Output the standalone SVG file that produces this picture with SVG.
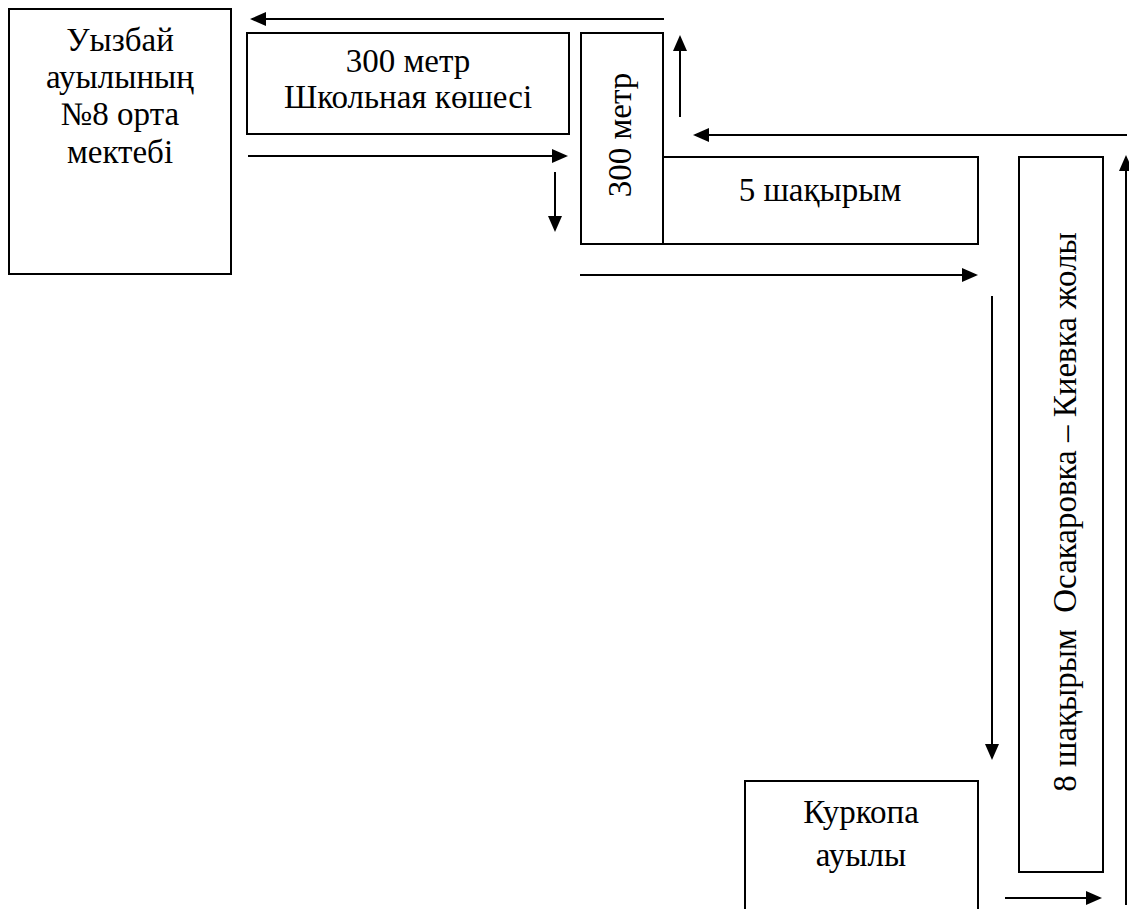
<svg xmlns="http://www.w3.org/2000/svg" width="1129" height="909" viewBox="0 0 1129 909">
<style>
.box{fill:#fff;stroke:#000;stroke-width:2}
.t{font-family:"Times New Roman","Liberation Serif",serif;font-size:33px;fill:#000;text-anchor:middle}
.ln{stroke:#000;stroke-width:2;fill:none;marker-end:url(#ah)}
</style>
<defs>
<marker id="ah" markerWidth="8" markerHeight="7" refX="7" refY="3.5" orient="auto" markerUnits="strokeWidth">
<path d="M0,0 L8,3.5 L0,7 Z" fill="#000"/>
</marker>
</defs>
<rect width="1129" height="909" fill="#fff"/>
<g id="school">
<rect class="box" x="9" y="9" width="222" height="265"/>
<text class="t" x="120" y="51">Уызбай</text>
<text class="t" x="120" y="88">ауылының</text>
<text class="t" x="120" y="125">№8 орта</text>
<text class="t" x="120" y="163">мектебі</text>
</g>
<g id="street">
<rect class="box" x="247" y="33" width="322" height="101"/>
<text class="t" x="408" y="72">300 метр</text>
<text class="t" x="408" y="108">Школьная көшесі</text>
</g>
<g id="m300">
<rect class="box" x="581" y="33" width="82" height="211"/>
<text class="t" transform="translate(631,135) rotate(-90)">300 метр</text>
</g>
<g id="km5">
<rect class="box" x="663" y="157" width="315" height="87"/>
<text class="t" x="820" y="201">5 шақырым</text>
</g>
<g id="km8">
<rect class="box" x="1019" y="157" width="84" height="715"/>
<text class="t" transform="translate(1076,512) rotate(-90)">8 шақырым&#160; Осакаровка – Киевка жолы</text>
</g>
<g id="kurkopa">
<rect class="box" x="745" y="781" width="233" height="140"/>
<text class="t" x="861" y="823">Куркопа</text>
<text class="t" x="861" y="866">ауылы</text>
</g>
<g id="connectors">
<line class="ln" x1="664" y1="19" x2="252" y2="19"/>
<line class="ln" x1="248" y1="156" x2="566" y2="156"/>
<line class="ln" x1="555" y1="172" x2="555" y2="230"/>
<line class="ln" x1="680" y1="117" x2="680" y2="37"/>
<line class="ln" x1="1127" y1="135" x2="695" y2="135"/>
<line class="ln" x1="580" y1="275" x2="976" y2="275"/>
<line class="ln" x1="992" y1="296" x2="992" y2="758"/>
<line class="ln" x1="1126" y1="905" x2="1126" y2="157"/>
<line class="ln" x1="1005" y1="898" x2="1100" y2="898"/>
</g>
</svg>
